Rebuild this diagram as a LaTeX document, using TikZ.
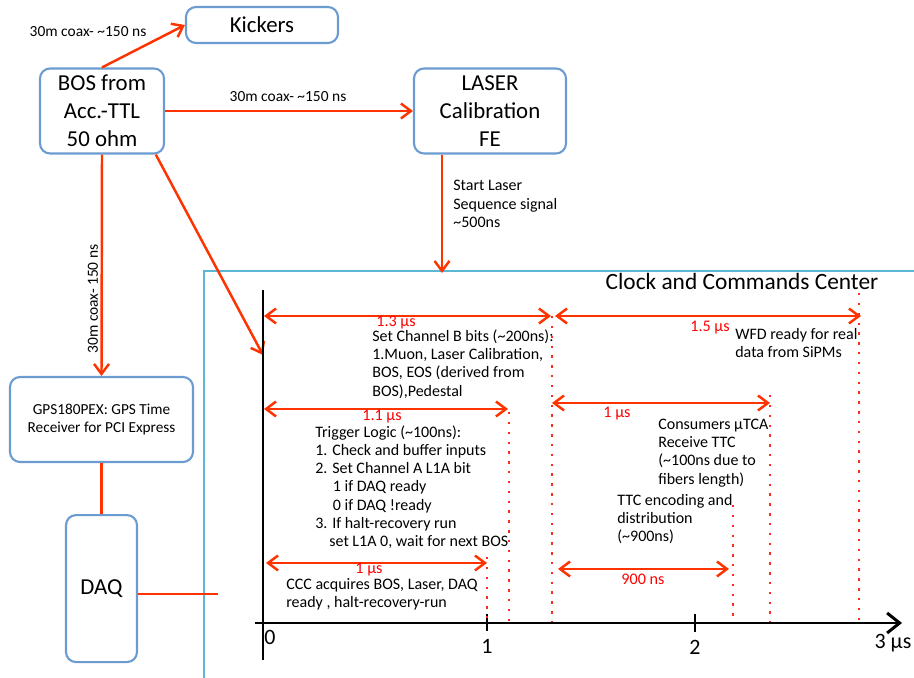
\documentclass[tikz,border=0pt]{standalone}
\usepackage{fontspec}
\setmainfont{Carlito}
\usepackage{tikz}
\usetikzlibrary{arrows.meta,positioning}
\definecolor{Wire}{HTML}{FF3300}
\definecolor{Frame}{HTML}{6C9BD2}
\definecolor{Aqua}{HTML}{5BB7D5}
\definecolor{Span}{HTML}{FF2A1A}

\begin{document}
\begin{tikzpicture}[
  x=0.02cm,y=-0.02cm,
  box/.style={draw=Frame,fill=white,line width=1.2pt,rounded corners=2mm,align=center,inner sep=0pt,font=\fontsize{13}{15.8}\selectfont},
  small/.style={font=\fontsize{8.7}{10.4}\selectfont},
  note/.style={font=\fontsize{9.1}{10.4}\selectfont,align=left,anchor=west,inner sep=0pt},
  wirelbl/.style={font=\fontsize{8.8}{10}\selectfont,inner sep=0pt},
  tag/.style={font=\fontsize{9.2}{10.4}\selectfont,text=red,inner sep=0pt},
  big/.style={font=\fontsize{12.5}{15}\selectfont,inner sep=0pt},
  link/.style={-{Straight Barb[length=2mm,width=3mm]},line width=1.4pt,color=Wire},
  wire/.style={line width=1.4pt,color=Wire},
  span/.style={{Straight Barb[length=2mm,width=3mm]}-{Straight Barb[length=2mm,width=3mm]},line width=1.4pt,color=Wire},
  tline/.style={Span,line width=1.4pt,dash pattern=on 1.4pt off 4.2pt},
  axis/.style={line width=1.7pt}
]
  \useasboundingbox (0,0) rectangle (914,678);

  % sources and front ends
  \node[box,minimum width=3.04cm,minimum height=0.72cm] (kick) at (262,25) {Kickers};
  \node[box,minimum width=2.48cm,minimum height=1.7cm] (bos) at (102,111) {BOS from\\Acc.-TTL\\50 ohm};
  \node[box,minimum width=3.04cm,minimum height=1.7cm] (laser) at (490,111) {LASER\\Calibration\\FE};
  \node[box,small,minimum width=3.66cm,minimum height=1.7cm] (gps) at (101.5,419.5) {GPS180PEX: GPS Time\\Receiver for PCI Express};
  \node[box,minimum width=1.42cm,minimum height=2.94cm,below=1.02cm of gps] (daq) {DAQ};

  % clock and commands center frame
  \draw[Aqua,line width=1.2pt] (204,678) |- (914,271);
  \node[big,font=\fontsize{13.3}{15.8}\selectfont] (ccc) at (742,281) {Clock and Commands Center};

  \coordinate (t0in) at (263,355);
  \coordinate (lsin) at (442,273);
  \coordinate (daqout) at (218,594);

  \draw[link] (bos.north) -- (kick.west);
  \draw[link] (bos.east) -- (laser.west);
  \draw[link] (bos.south) -- (gps.north);
  \draw[link] (bos.-39) -- (t0in);
  \draw[link] (laser.south west -| lsin) -- (lsin);
  \draw[wire] (gps.south) -- (daq.north);
  \draw[wire] (daqout -| daq.east) -- (daqout);

  \node[wirelbl] at (88,32) {30m coax- \textasciitilde150 ns};
  \node[wirelbl] at (288,97) {30m coax- \textasciitilde150 ns};
  \node[wirelbl,rotate=90] at (93,299) {30m coax- 150 ns};
  \node[note] at (453,204) {Start Laser\\Sequence signal\\\textasciitilde500ns};

  % time axis
  \draw[axis] (263,290) -- (263,660);
  \draw[axis,-{Straight Barb[length=2.5mm,width=4mm]}] (255,623) -- (902,623);
  \draw[axis] (487,614) -- (487,631);
  \draw[axis] (695,614) -- (695,632);
  \node[big] at (270,637) {0};
  \node[big] at (487,646) {1};
  \node[big] at (695,647) {2};
  \node[big] at (893,643) {3 µs};

  % marker lines
  \foreach \x/\ytop in {487/557,509/412,552/316,733/505,770/395,859/293}
    \draw[tline] (\x,\ytop) -- (\x,622);

  % durations
  \draw[span] (264,316) -- (551,316);
  \node[tag] at (396,323) {1.3 µs};
  \draw[span] (555,316) -- (861,316);
  \node[tag] at (710,328) {1.5 µs};
  \draw[span] (264,409) -- (508,409);
  \node[tag] at (382,417) {1.1 µs};
  \draw[span] (552,403) -- (770,403);
  \node[tag] at (617,414) {1 µs};
  \draw[span] (266,563) -- (487,563);
  \node[tag] at (369,570) {1 µs};
  \draw[span] (558,569) -- (729,569);
  \node[tag] at (643,579) {900 ns};

  % steps
  \node[note] at (372,364) {Set Channel B bits (\textasciitilde200ns):\\1.Muon, Laser Calibration,\\BOS, EOS (derived from\\BOS),Pedestal};
  \node[note] at (315,487) {Trigger Logic (\textasciitilde100ns):\\1. Check and buffer inputs\\2. Set Channel A L1A bit\\\hspace*{10pt}1 if DAQ ready\\\hspace*{10pt}0 if DAQ !ready\\3. If halt-recovery run\\\hspace*{8pt}set L1A 0, wait for next BOS};
  \node[note] at (286,594) {CCC acquires BOS, Laser, DAQ\\ready , halt-recovery-run};
  \node[note] at (735,343) {WFD ready for real\\data from SiPMs};
  \node[note] at (658,453) {Consumers µTCA\\Receive TTC\\(\textasciitilde100ns due to\\fibers length)};
  \node[note] at (617,519) {TTC encoding and\\distribution\\(\textasciitilde900ns)};
\end{tikzpicture}
\end{document}
